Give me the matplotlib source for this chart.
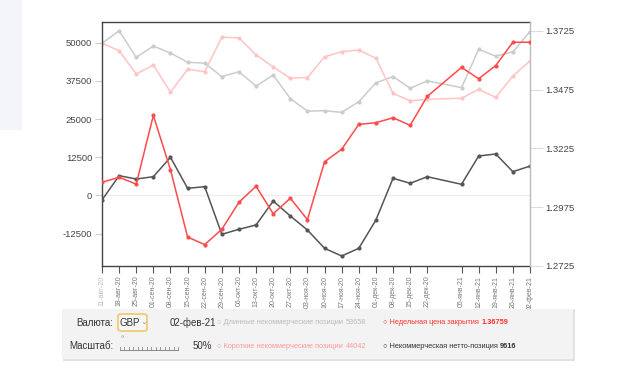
import numpy as np
import matplotlib
matplotlib.use("Agg")
import matplotlib.pyplot as plt
from matplotlib.patches import Rectangle, FancyBboxPatch
from matplotlib.lines import Line2D
import datetime as dt

plt.rcParams['font.family'] = ['Liberation Sans', 'DejaVu Sans']

# weekly COT data, GBP
dates = ["2020-08-11", "2020-08-18", "2020-08-25", "2020-09-01", "2020-09-08",
         "2020-09-15", "2020-09-22", "2020-09-29", "2020-10-06", "2020-10-13",
         "2020-10-20", "2020-10-27", "2020-11-03", "2020-11-10", "2020-11-17",
         "2020-11-24", "2020-12-01", "2020-12-08", "2020-12-15", "2020-12-22",
         "2021-01-05", "2021-01-12", "2021-01-19", "2021-01-26", "2021-02-02"]
long_pos = [49800, 53900, 45200, 48900, 46600, 43600, 43300, 38900, 40500, 35800,
            39400, 31700, 27600, 27750, 27200, 30700, 36900, 38900, 35100, 37500,
            35300, 47800, 45600, 47000, 53658]
short_pos = [49800, 47400, 39750, 42700, 33800, 41300, 40500, 51800, 51600, 46000,
             42100, 38400, 38600, 45400, 47050, 47600, 44900, 33400, 31000, 31500,
             31800, 34750, 32100, 39100, 44042]
net_pos = [-1470, 6480, 5400, 6150, 12500, 2350, 2880, -12690, -11060, -9650,
           -1800, -6710, -11300, -17280, -19800, -17280, -8020, 5630, 3990, 6150,
           3660, 12920, 13580, 7790, 9616]
price = [1.3081, 1.3102, 1.3073, 1.3365, 1.3134, 1.2848, 1.2816, 1.2881, 1.2996, 1.3064,
         1.2947, 1.3013, 1.2922, 1.3168, 1.3221, 1.3327, 1.3334, 1.3355, 1.3323, 1.3446,
         1.3569, 1.3521, 1.3577, 1.3676, 1.36759]
left_ticks = [-12500, 0, 12500, 25000, 37500, 50000]
right_ticks = [1.2725, 1.2975, 1.3225, 1.3475, 1.3725]
months_ru = ["янв", "фев", "мар", "апр", "май", "июн", "июл", "авг", "сен", "окт", "ноя", "дек"]

x = [dt.datetime.strptime(d, "%Y-%m-%d") for d in dates]
labels = ["%02d-%s-%s" % (d.day, months_ru[d.month - 1], d.strftime("%y")) for d in x]

W, H = 620, 368
fig = plt.figure(figsize=(W / 100, H / 100), dpi=100)

def fx(px):
    return px / W

def fy(py):
    return 1 - py / H

# light strip at top-left
fig.patches.append(Rectangle((0, fy(130)), fx(22), 130 / H, transform=fig.transFigure,
                             facecolor='#f4f5f9', edgecolor='none', zorder=0))

ax = fig.add_axes([fx(102), fy(266), fx(530) - fx(102), (266 - 22) / H])
ax2 = ax.twinx()

ax.axhline(0, color='#eeeeee', lw=1, zorder=0)
ax.plot(x, long_pos, color='#cccccc', lw=1.1, marker='o', ms=2, zorder=2)
ax.plot(x, short_pos, color='#ffc4c4', lw=1.1, marker='o', ms=2, zorder=2)
ax.plot(x, net_pos, color='#555555', lw=1.1, marker='o', ms=2, zorder=3)
ax2.plot(x, price, color='#ff4a4a', lw=1.1, marker='o', ms=2, zorder=3)

ax.set_ylim(-23070, 56770)
ax2.set_ylim(1.2729, 1.3762)
ax.set_xlim(x[0], x[-1])

ax.set_yticks(left_ticks)
ax.set_yticklabels([str(t) for t in left_ticks])
ax2.set_yticks(right_ticks)
ax2.set_yticklabels(["%.4f" % t for t in right_ticks])
ax.set_xticks(x)
ax.set_xticklabels(labels, rotation=90)

ax.tick_params(axis='y', length=5, width=0.8, color='#cccccc', labelsize=6.8,
               labelcolor='#444444', pad=2)
ax2.tick_params(axis='y', length=9, width=0.8, color='#dddddd', labelsize=6.8,
                labelcolor='#444444', pad=2)
ax.tick_params(axis='x', length=5, width=0.8, color='#555555', labelsize=5,
               labelcolor='#777777', pad=2)
ax.get_xticklabels()[0].set_color('#bbbbbb')

for s in ['left', 'bottom', 'top']:
    ax.spines[s].set_color('#444444')
    ax.spines[s].set_linewidth(1)
ax.spines['right'].set_visible(False)
for s in ['left', 'bottom', 'top']:
    ax2.spines[s].set_visible(False)
ax2.spines['right'].set_color('#bbbbbb')
ax2.spines['right'].set_linewidth(1)

# control panel
fig.patches.append(Rectangle((fx(63), fy(361)), fx(575) - fx(63), (361 - 309) / H,
                             transform=fig.transFigure, facecolor='#e2e2e2',
                             edgecolor='none', zorder=0))
fig.patches.append(Rectangle((fx(62), fy(359)), fx(573) - fx(62), (359 - 309) / H,
                             transform=fig.transFigure, facecolor='#f3f3f3',
                             edgecolor='none', zorder=0))
fig.patches.append(FancyBboxPatch((fx(118), fy(331)), fx(147) - fx(118), (331 - 314) / H,
                                  boxstyle="round,pad=0,rounding_size=0.006",
                                  transform=fig.transFigure, facecolor='#f6f6f6',
                                  edgecolor='#f2c768', lw=1.2, zorder=1))

fig.text(fx(113), fy(323), "Валюта:", ha='right', va='center', fontsize=7, color='#333333')
fig.text(fx(120), fy(323), "GBP", ha='left', va='center', fontsize=7, color='#333333')
fig.text(fx(140), fy(322), "⌄", ha='left', va='center', fontsize=6, color='#999999',
         family='DejaVu Sans')
fig.text(fx(170), fy(323), "02-фев-21", ha='left', va='center', fontsize=7, color='#333333')
fig.text(fx(113), fy(346), "Масштаб:", ha='right', va='center', fontsize=7, color='#333333')
fig.text(fx(193), fy(346), "50%", ha='left', va='center', fontsize=7, color='#333333')

# slider
fig.lines.append(Line2D([fx(120), fx(178)], [fy(350), fy(350)], transform=fig.transFigure,
                        color='#888888', lw=0.7))
for tx in np.linspace(120, 178, 14):
    fig.lines.append(Line2D([fx(tx), fx(tx)], [fy(350), fy(347)], transform=fig.transFigure,
                            color='#888888', lw=0.6))
fig.text(fx(122), fy(340), "°", ha='center', va='center', fontsize=6, color='#888888')

fs = 5.3
fig.text(fx(217), fy(323), "○ Длинные некоммерческие позиции", ha='left', va='center',
         fontsize=fs, color='#bbbbbb')
fig.text(fx(346), fy(323), "53658", ha='left', va='center', fontsize=fs, color='#bbbbbb')
fig.text(fx(217), fy(346), "○ Короткие некоммерческие позиции", ha='left', va='center',
         fontsize=fs, color='#ff9a9a')
fig.text(fx(346), fy(346), "44042", ha='left', va='center', fontsize=fs, color='#ff9a9a')
fig.text(fx(383), fy(323), "○ Недельная цена закрытия", ha='left', va='center',
         fontsize=fs, color='#ff3030')
fig.text(fx(481), fy(323), "1.36759", ha='left', va='center', fontsize=fs,
         color='#ff3030', fontweight='bold')
fig.text(fx(383), fy(346), "○ Некоммерческая нетто-позиция", ha='left', va='center',
         fontsize=fs, color='#333333')
fig.text(fx(500), fy(346), "9616", ha='left', va='center', fontsize=fs,
         color='#333333', fontweight='bold')

fig.savefig("out.png", dpi=100)
